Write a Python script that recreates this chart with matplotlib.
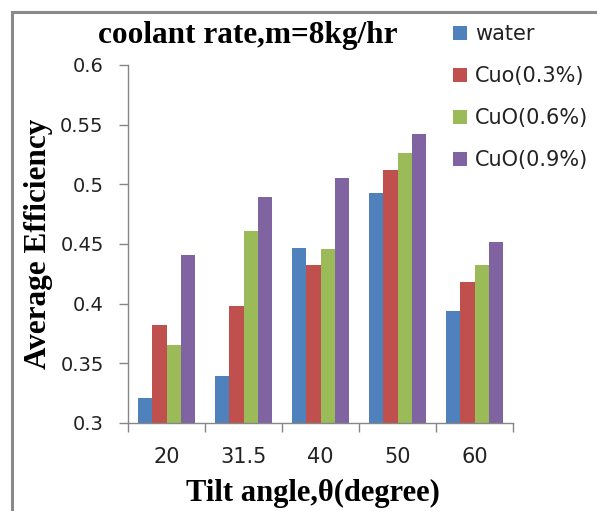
import matplotlib
matplotlib.use("Agg")
import matplotlib.pyplot as plt
import numpy as np
from matplotlib.patches import Rectangle

categories = ["20", "31.5", "40", "50", "60"]
series_names = ["water", "Cuo(0.3%)", "CuO(0.6%)", "CuO(0.9%)"]
water = [0.321, 0.339, 0.447, 0.493, 0.394]
cuo03 = [0.382, 0.398, 0.432, 0.512, 0.418]
cuo06 = [0.365, 0.461, 0.446, 0.526, 0.432]
cuo09 = [0.441, 0.489, 0.505, 0.542, 0.452]
colors = ["#4F81BD", "#C0504D", "#9BBB59", "#8064A2"]

W, H = 597, 511
fig = plt.figure(figsize=(W / 100, H / 100), dpi=100)
fig.patch.set_facecolor("white")

# outer border (cropped at right and bottom)
fig.patches.append(Rectangle((12 / W, -0.1), 1.2, 1 - 12 / H + 0.1,
                             transform=fig.transFigure, fill=False,
                             edgecolor="#8a8a8a", linewidth=2.2))

ax = fig.add_axes([128 / W, (H - 423) / H, (513 - 128) / W, (423 - 65) / H])

x = np.arange(len(categories))
bw = 0.182
for i, (vals, c, name) in enumerate(zip([water, cuo03, cuo06, cuo09], colors, series_names)):
    ax.bar(x + (i - 1.5) * bw, vals, width=bw, color=c, label=name, zorder=2)

ax.set_xlim(-0.5, len(categories) - 0.5)
ax.set_ylim(0.3, 0.6)
ax.set_yticks([0.3, 0.35, 0.4, 0.45, 0.5, 0.55, 0.6])
ax.set_yticklabels(["0.3", "0.35", "0.4", "0.45", "0.5", "0.55", "0.6"])
ax.set_xticks(x)
ax.set_xticklabels(categories)
ax.set_xticks(np.arange(-0.5, len(categories)), minor=True)

for s in ["top", "right"]:
    ax.spines[s].set_visible(False)
for s in ["left", "bottom"]:
    ax.spines[s].set_color("#868686")
    ax.spines[s].set_linewidth(1.0)

ax.tick_params(axis="y", direction="out", length=6.5, width=1.0, color="#868686",
               pad=11, labelsize=14, labelcolor="#222222")
ax.tick_params(axis="x", which="major", length=0, pad=17, labelsize=15, labelcolor="#222222")
ax.tick_params(axis="x", which="minor", direction="out", length=6.5, width=1.0, color="#868686")

serif = "Liberation Serif"
fig.text(248 / W, 1 - 36 / H, "coolant rate,m=8kg/hr", family=serif, fontweight="bold",
         fontsize=22.5, ha="center", va="center")
fig.text(39 / W, 1 - 244 / H, "Average Efficiency", family=serif, fontweight="bold",
         fontsize=22.5, ha="center", va="center", rotation=90)
fig.text(313 / W, 1 - 493 / H, "Tilt angle,\u03b8(degree)", family=serif, fontweight="bold",
         fontsize=22, ha="center", va="center")

leg = fig.legend(loc="upper left", bbox_to_anchor=(453 / W, 1 - 24 / H), frameon=False,
                 fontsize=15, handlelength=0.65, handleheight=0.65, handletextpad=0.4,
                 labelspacing=1.06, borderpad=0, borderaxespad=0)
for t in leg.get_texts():
    t.set_color("#222222")

fig.savefig("out.png", dpi=100, facecolor="white")
